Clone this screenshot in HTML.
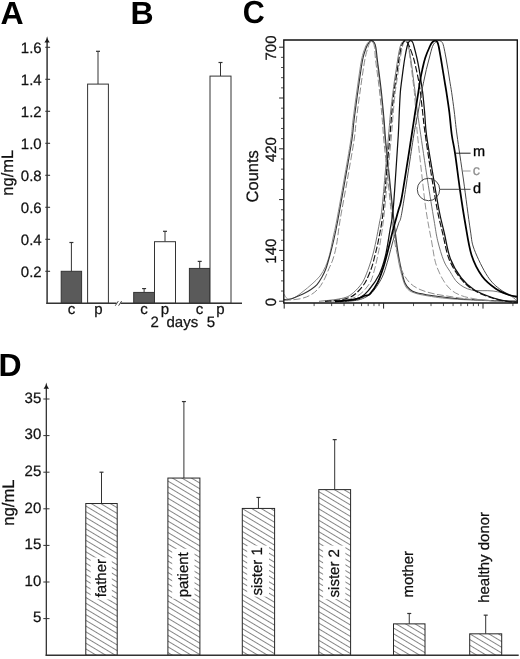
<!DOCTYPE html>
<html lang="en">
<head>
<meta charset="utf-8">
<title>Figure: panels A-D</title>
<style>
html,body{margin:0;padding:0;background:#fff;}
body{width:520px;height:659px;overflow:hidden;font-family:"Liberation Sans", Arial, Helvetica, sans-serif;}
svg{display:block;}
text{font-family:"Liberation Sans", Arial, Helvetica, sans-serif;text-rendering:geometricPrecision;}
svg{will-change:transform;}
</style>
</head>
<body>
<svg width="520" height="659" viewBox="0 0 520 659" font-family='"Liberation Sans", Arial, Helvetica, sans-serif' role="img" aria-label="Figure with panels A to D">
<defs>
<pattern id="hatch" width="20" height="4.9" patternUnits="userSpaceOnUse" patternTransform="rotate(31)"><line x1="0" y1="2.45" x2="20" y2="2.45" stroke="#4c4c4c" stroke-width="0.68"/></pattern>
<clipPath id="clipC"><rect x="284" y="40" width="233.3" height="263"/></clipPath>
</defs>
<rect width="520" height="659" fill="#fff"/>
<text x="0.5" y="24" font-size="32" text-anchor="start" font-weight="bold" fill="#000" >A</text>
<text x="130.5" y="24" font-size="32" text-anchor="start" font-weight="bold" fill="#000" >B</text>
<text x="242.7" y="23.4" font-size="32" text-anchor="start" font-weight="bold" fill="#000" textLength="22" lengthAdjust="spacingAndGlyphs">C</text>
<text x="-1.5" y="376" font-size="32" text-anchor="start" font-weight="bold" fill="#000" >D</text>
<line x1="71.4" y1="271.3" x2="71.4" y2="242.5" stroke="#333" stroke-width="1.0" />
<line x1="69.4" y1="242.5" x2="73.4" y2="242.5" stroke="#333" stroke-width="1.2" />
<rect x="61.2" y="271.3" width="20.4" height="32" fill="#5a5a5a" stroke="#333" stroke-width="1"/>
<line x1="98" y1="84.1" x2="98" y2="51.3" stroke="#333" stroke-width="1.0" />
<line x1="96" y1="51.3" x2="100" y2="51.3" stroke="#333" stroke-width="1.2" />
<rect x="87.6" y="84.1" width="20.8" height="219.2" fill="#fff" stroke="#333" stroke-width="1"/>
<line x1="144.1" y1="292.42" x2="144.1" y2="288.58" stroke="#333" stroke-width="1.0" />
<line x1="142.1" y1="288.58" x2="146.1" y2="288.58" stroke="#333" stroke-width="1.2" />
<rect x="133.7" y="292.42" width="20.8" height="10.88" fill="#5a5a5a" stroke="#333" stroke-width="1"/>
<line x1="165" y1="241.7" x2="165" y2="231.3" stroke="#333" stroke-width="1.0" />
<line x1="163" y1="231.3" x2="167" y2="231.3" stroke="#333" stroke-width="1.2" />
<rect x="154.5" y="241.7" width="21" height="61.6" fill="#fff" stroke="#333" stroke-width="1"/>
<line x1="199.7" y1="268.42" x2="199.7" y2="261.38" stroke="#333" stroke-width="1.0" />
<line x1="197.7" y1="261.38" x2="201.7" y2="261.38" stroke="#333" stroke-width="1.2" />
<rect x="189.4" y="268.42" width="20.6" height="34.88" fill="#5a5a5a" stroke="#333" stroke-width="1"/>
<line x1="220.5" y1="76.1" x2="220.5" y2="62.5" stroke="#333" stroke-width="1.0" />
<line x1="218.5" y1="62.5" x2="222.5" y2="62.5" stroke="#333" stroke-width="1.2" />
<rect x="210" y="76.1" width="21" height="227.2" fill="#fff" stroke="#333" stroke-width="1"/>
<line x1="47.1" y1="303.9" x2="47.1" y2="41" stroke="#333" stroke-width="1.5" />
<path d="M47.1,36.3 Q47.7,40 49.8,42.6 L44.4,42.6 Q46.5,40 47.1,36.3 Z" fill="#1a1a1a"/>
<line x1="45.3" y1="271.3" x2="50.1" y2="271.3" stroke="#333" stroke-width="1.1" />
<text x="41.7" y="276.6" font-size="15" text-anchor="end" font-weight="normal" fill="#111"  stroke="#111" stroke-width="0.25">0.2</text>
<line x1="45.3" y1="239.3" x2="50.1" y2="239.3" stroke="#333" stroke-width="1.1" />
<text x="41.7" y="244.6" font-size="15" text-anchor="end" font-weight="normal" fill="#111"  stroke="#111" stroke-width="0.25">0.4</text>
<line x1="45.3" y1="207.3" x2="50.1" y2="207.3" stroke="#333" stroke-width="1.1" />
<text x="41.7" y="212.6" font-size="15" text-anchor="end" font-weight="normal" fill="#111"  stroke="#111" stroke-width="0.25">0.6</text>
<line x1="45.3" y1="175.3" x2="50.1" y2="175.3" stroke="#333" stroke-width="1.1" />
<text x="41.7" y="180.6" font-size="15" text-anchor="end" font-weight="normal" fill="#111"  stroke="#111" stroke-width="0.25">0.8</text>
<line x1="45.3" y1="143.3" x2="50.1" y2="143.3" stroke="#333" stroke-width="1.1" />
<text x="41.7" y="148.6" font-size="15" text-anchor="end" font-weight="normal" fill="#111"  stroke="#111" stroke-width="0.25">1.0</text>
<line x1="45.3" y1="111.3" x2="50.1" y2="111.3" stroke="#333" stroke-width="1.1" />
<text x="41.7" y="116.6" font-size="15" text-anchor="end" font-weight="normal" fill="#111"  stroke="#111" stroke-width="0.25">1.2</text>
<line x1="45.3" y1="79.3" x2="50.1" y2="79.3" stroke="#333" stroke-width="1.1" />
<text x="41.7" y="84.6" font-size="15" text-anchor="end" font-weight="normal" fill="#111"  stroke="#111" stroke-width="0.25">1.4</text>
<line x1="45.3" y1="47.3" x2="50.1" y2="47.3" stroke="#333" stroke-width="1.1" />
<text x="41.7" y="52.6" font-size="15" text-anchor="end" font-weight="normal" fill="#111"  stroke="#111" stroke-width="0.25">1.6</text>
<line x1="46.4" y1="303.3" x2="116.5" y2="303.3" stroke="#333" stroke-width="1.5" />
<line x1="120.5" y1="303.3" x2="242" y2="303.3" stroke="#333" stroke-width="1.5" />
<line x1="115.3" y1="305.7" x2="118.3" y2="301.1" stroke="#333" stroke-width="0.9" />
<line x1="118.6" y1="305.7" x2="121.6" y2="301.1" stroke="#333" stroke-width="0.9" />
<text x="13" y="172.8" font-size="16.5" text-anchor="middle" font-weight="normal" fill="#111" transform="rotate(-90 13 172.8)"  stroke="#111" stroke-width="0.25">ng/mL</text>
<text x="71.5" y="313.8" font-size="15" text-anchor="middle" font-weight="normal" fill="#111"  stroke="#111" stroke-width="0.25">c</text>
<text x="98.5" y="313.8" font-size="15" text-anchor="middle" font-weight="normal" fill="#111"  stroke="#111" stroke-width="0.25">p</text>
<text x="144.1" y="313.8" font-size="15" text-anchor="middle" font-weight="normal" fill="#111"  stroke="#111" stroke-width="0.25">c</text>
<text x="164.9" y="313.8" font-size="15" text-anchor="middle" font-weight="normal" fill="#111"  stroke="#111" stroke-width="0.25">p</text>
<text x="199.5" y="313.8" font-size="15" text-anchor="middle" font-weight="normal" fill="#111"  stroke="#111" stroke-width="0.25">c</text>
<text x="220.3" y="313.8" font-size="15" text-anchor="middle" font-weight="normal" fill="#111"  stroke="#111" stroke-width="0.25">p</text>
<text x="154.7" y="327.4" font-size="15" text-anchor="middle" font-weight="normal" fill="#111"  stroke="#111" stroke-width="0.25">2</text>
<text x="182.3" y="327.4" font-size="15" text-anchor="middle" font-weight="normal" fill="#111"  stroke="#111" stroke-width="0.25">days</text>
<text x="210.8" y="327.4" font-size="15" text-anchor="middle" font-weight="normal" fill="#111"  stroke="#111" stroke-width="0.25">5</text>
<g clip-path="url(#clipC)">
<path d="M284,294C284.33,294.58 285.17,296.67 286,297.5C286.83,298.33 287.5,299.03 289,299C290.5,298.97 292.67,298.55 295,297.3C297.33,296.05 300.17,293.72 303,291.5C305.83,289.28 309.17,286.58 312,284C314.83,281.42 317.75,278.92 320,276C322.25,273.08 323.9,270.07 325.5,266.5C327.1,262.93 328.35,259.35 329.6,254.6C330.85,249.85 331.8,243.77 333,238C334.2,232.23 334.97,229.67 336.8,220C338.63,210.33 341.67,193.33 344,180C346.33,166.67 349.3,150 350.8,140C352.3,130 351.97,128.33 353,120C354.03,111.67 355.58,100 357,90C358.42,80 360.13,67.08 361.5,60C362.87,52.92 364.15,50.37 365.2,47.5C366.25,44.63 366.85,43.95 367.8,42.8C368.75,41.65 369.9,40.6 370.9,40.6C371.9,40.6 373.07,41.65 373.8,42.8C374.53,43.95 374.8,44.63 375.3,47.5C375.8,50.37 375.92,52.92 376.8,60C377.68,67.08 379.48,80 380.6,90C381.72,100 382.77,111.67 383.5,120C384.23,128.33 384.32,132.5 385,140C385.68,147.5 386.4,153.33 387.6,165C388.8,176.67 390.83,197.33 392.2,210C393.57,222.67 394.88,233.33 395.8,241C396.72,248.67 396.87,250.92 397.7,256C398.53,261.08 399.42,266.33 400.8,271.5C402.18,276.67 403.7,283.42 406,287C408.3,290.58 410.35,291.42 414.6,293C418.85,294.58 426.1,295.58 431.5,296.5C436.9,297.42 440.58,297.92 447,298.5C453.42,299.08 461.17,299.58 470,300C478.83,300.42 492.17,300.78 500,301C507.83,301.22 514.17,301.25 517,301.3" fill="none" stroke="#8c8c8c" stroke-width="1.0" stroke-linejoin="round" stroke-linecap="butt"/>
<path d="M284,299.5C285,299.47 286.83,300.22 290,299.3C293.17,298.38 299.5,295.63 303,294C306.5,292.37 308.67,291.07 311,289.5C313.33,287.93 315.17,286.68 317,284.6C318.83,282.52 320.5,279.68 322,277C323.5,274.32 324.67,272.17 326,268.5C327.33,264.83 328.67,259.92 330,255C331.33,250.08 332.68,244.83 334,239C335.32,233.17 336.05,229.83 337.9,220C339.75,210.17 342.77,193.33 345.1,180C347.43,166.67 350.4,150 351.9,140C353.4,130 353.07,128.33 354.1,120C355.13,111.67 356.68,100 358.1,90C359.52,80 361.23,67.08 362.6,60C363.97,52.92 365.25,50.37 366.3,47.5C367.35,44.63 368.07,43.95 368.9,42.8C369.73,41.65 370.38,40.6 371.3,40.6C372.22,40.6 373.63,41.65 374.4,42.8C375.17,43.95 375.4,44.63 375.9,47.5C376.4,50.37 376.52,52.92 377.4,60C378.28,67.08 380.08,80 381.2,90C382.32,100 383.37,111.67 384.1,120C384.83,128.33 384.92,132.5 385.6,140C386.28,147.5 387,153.33 388.2,165C389.4,176.67 391.43,197.33 392.8,210C394.17,222.67 395.43,233.33 396.4,241C397.37,248.67 397.7,250.92 398.6,256C399.5,261.08 400.73,267 401.8,271.5C402.87,276 403.63,280 405,283C406.37,286 408.17,287.92 410,289.5C411.83,291.08 412.42,291.5 416,292.5C419.58,293.5 426.33,294.67 431.5,295.5C436.67,296.33 440.58,296.83 447,297.5C453.42,298.17 461.17,298.95 470,299.5C478.83,300.05 492.17,300.52 500,300.8C507.83,301.08 514.17,301.13 517,301.2" fill="none" stroke="#333" stroke-width="1.1" stroke-linejoin="round" stroke-linecap="butt"/>
<path d="M284,300.5C286.67,300.22 295.67,299.67 300,298.8C304.33,297.93 307,296.93 310,295.3C313,293.67 315.67,291.55 318,289C320.33,286.45 322.17,283.42 324,280C325.83,276.58 327.5,272 329,268.5C330.5,265 331.75,262.92 333,259C334.25,255.08 335.32,251.5 336.5,245C337.68,238.5 338.3,230.83 340.1,220C341.9,209.17 344.97,193.33 347.3,180C349.63,166.67 352.6,150 354.1,140C355.6,130 355.27,128.33 356.3,120C357.33,111.67 358.88,100 360.3,90C361.72,80 363.52,67.08 364.8,60C366.08,52.92 367.18,50.3 368,47.5C368.82,44.7 369.12,44.3 369.7,43.2C370.28,42.1 370.9,40.9 371.5,40.9C372.1,40.9 372.8,42.1 373.3,43.2C373.8,44.3 374.12,44.7 374.5,47.5C374.88,50.3 374.78,52.92 375.6,60C376.42,67.08 378.28,80 379.4,90C380.52,100 381.57,111.67 382.3,120C383.03,128.33 383.12,132.5 383.8,140C384.48,147.5 385.2,153.33 386.4,165C387.6,176.67 389.63,197.33 391,210C392.37,222.67 393.47,233.33 394.6,241C395.73,248.67 396.65,251.17 397.8,256C398.95,260.83 399.55,265.58 401.5,270C403.45,274.42 406.42,279.25 409.5,282.5C412.58,285.75 415.92,287.62 420,289.5C424.08,291.38 429,292.63 434,293.8C439,294.97 444.17,295.6 450,296.5C455.83,297.4 460.67,298.45 469,299.2C477.33,299.95 492,300.63 500,301C508,301.37 514.17,301.33 517,301.4" fill="none" stroke="#8c8c8c" stroke-width="1.0" stroke-linejoin="round" stroke-linecap="butt" stroke-dasharray="7 2.5"/>
<path d="M319,301.3C321.67,301.02 330.5,300.27 335,299.6C339.5,298.93 343.17,298.27 346,297.3C348.83,296.33 349.83,295.52 352,293.8C354.17,292.08 357.03,289.3 359,287C360.97,284.7 362.13,283.33 363.8,280C365.47,276.67 367.47,271.33 369,267C370.53,262.67 371.83,258.33 373,254C374.17,249.67 374.9,246.33 376,241C377.1,235.67 378.63,227.17 379.6,222C380.57,216.83 380.82,218.67 381.8,210C382.78,201.33 384.37,182.5 385.5,170C386.63,157.5 387.75,144.67 388.6,135C389.45,125.33 389.88,119.05 390.6,112C391.32,104.95 392.27,97.83 392.9,92.7C393.53,87.57 393.85,85.05 394.4,81.2C394.95,77.35 395.62,73.47 396.2,69.6C396.78,65.73 397.23,61.85 397.9,58C398.57,54.15 399.47,49.13 400.2,46.5C400.93,43.87 401.53,43.18 402.3,42.2C403.07,41.22 403.97,40.47 404.8,40.6C405.63,40.73 406.6,41.6 407.3,43C408,44.4 408.45,46.5 409,49C409.55,51.5 410.05,54.57 410.6,58C411.15,61.43 411.78,65.73 412.3,69.6C412.82,73.47 413.22,77.35 413.7,81.2C414.18,85.05 414.57,87.57 415.2,92.7C415.83,97.83 416.7,105.78 417.5,112C418.3,118.22 418.33,118.67 420,130C421.67,141.33 425.17,165 427.5,180C429.83,195 432.3,209.87 434,220C435.7,230.13 436.07,234 437.7,240.8C439.33,247.6 441.75,255.68 443.8,260.8C445.85,265.92 447.63,267.8 450,271.5C452.37,275.2 454.42,279.92 458,283C461.58,286.08 465.67,288.67 471.5,290C477.33,291.33 486.75,290.17 493,291C499.25,291.83 505,293.37 509,295C513,296.63 515.67,299.83 517,300.8" fill="none" stroke="#666" stroke-width="0.9" stroke-linejoin="round" stroke-linecap="butt"/>
<path d="M330,301.4C333.33,301 344.95,300.23 350,299C355.05,297.77 357.47,296 360.3,294C363.13,292 365.17,289.33 367,287C368.83,284.67 369.93,283.33 371.3,280C372.67,276.67 374.05,271.42 375.2,267C376.35,262.58 377.32,257.87 378.2,253.5C379.08,249.13 379.48,247.55 380.5,240.8C381.52,234.05 383.02,224.8 384.3,213C385.58,201.2 387,183 388.2,170C389.4,157 390.65,144.67 391.5,135C392.35,125.33 392.68,119.05 393.3,112C393.92,104.95 394.62,97.83 395.2,92.7C395.78,87.57 396.23,85.05 396.8,81.2C397.37,77.35 398.02,73.47 398.6,69.6C399.18,65.73 399.65,61.85 400.3,58C400.95,54.15 401.88,49.13 402.5,46.5C403.12,43.87 403.45,43.15 404,42.2C404.55,41.25 405.22,40.67 405.8,40.8C406.38,40.93 407,41.63 407.5,43C408,44.37 408.38,46.5 408.8,49C409.22,51.5 409.53,54.57 410,58C410.47,61.43 411.1,65.73 411.6,69.6C412.1,73.47 412.53,77.35 413,81.2C413.47,85.05 413.93,87.57 414.4,92.7C414.87,97.83 415.33,105.45 415.8,112C416.27,118.55 416.25,122 417.2,132C418.15,142 420.03,159 421.5,172C422.97,185 424.33,198.53 426,210C427.67,221.47 429.75,231.5 431.5,240.8C433.25,250.1 433.87,258.27 436.5,265.8C439.13,273.33 443.25,281.07 447.3,286C451.35,290.93 455.02,293.07 460.8,295.4C466.58,297.73 475.47,298.98 482,300C488.53,301.02 494.17,301.2 500,301.5C505.83,301.8 514.17,301.75 517,301.8" fill="none" stroke="#888" stroke-width="0.9" stroke-linejoin="round" stroke-linecap="butt" stroke-dasharray="7 2.5"/>
<path d="M340,301.6C343.33,300.92 355,299.68 360,297.5C365,295.32 366.8,292.32 370,288.5C373.2,284.68 376.63,280.02 379.2,274.6C381.77,269.18 383.6,263.43 385.4,256C387.2,248.57 388.73,237.5 390,230C391.27,222.5 392,221 393,211C394,201 395.12,182.67 396,170C396.88,157.33 397.75,144.67 398.3,135C398.85,125.33 398.97,119.05 399.3,112C399.63,104.95 399.92,97.83 400.3,92.7C400.68,87.57 401.13,85.05 401.6,81.2C402.07,77.35 402.57,73.47 403.1,69.6C403.63,65.73 404.13,61.85 404.8,58C405.47,54.15 406.47,49.13 407.1,46.5C407.73,43.87 408.02,43.18 408.6,42.2C409.18,41.22 409.93,40.6 410.6,40.6C411.27,40.6 412.03,41.22 412.6,42.2C413.17,43.18 413.28,43.87 414,46.5C414.72,49.13 416.03,54.15 416.9,58C417.77,61.85 418.52,65.73 419.2,69.6C419.88,73.47 420.42,77.35 421,81.2C421.58,85.05 422.1,87.57 422.7,92.7C423.3,97.83 423.97,104.95 424.6,112C425.23,119.05 425.18,125 426.5,135C427.82,145 430.42,159.5 432.5,172C434.58,184.5 437.03,199.83 439,210C440.97,220.17 442.38,224.83 444.3,233C446.22,241.17 447.67,251.5 450.5,259C453.33,266.5 457.3,272.83 461.3,278C465.3,283.17 469.13,286.67 474.5,290C479.87,293.33 487.75,296.08 493.5,298C499.25,299.92 505.08,300.83 509,301.5C512.92,302.17 515.67,301.92 517,302" fill="none" stroke="#111" stroke-width="1.25" stroke-linejoin="round" stroke-linecap="butt"/>
<path d="M325,301.4C327.5,301.17 335.83,300.7 340,300C344.17,299.3 347.4,298.23 350,297.2C352.6,296.17 353.6,295.5 355.6,293.8C357.6,292.1 360.22,289.23 362,287C363.78,284.77 364.72,283.57 366.3,280.4C367.88,277.23 370,272.4 371.5,268C373,263.6 374.13,258.67 375.3,254C376.47,249.33 377.25,246.57 378.5,240C379.75,233.43 381.42,226.27 382.8,214.6C384.18,202.93 385.6,183.27 386.8,170C388,156.73 389.15,144.67 390,135C390.85,125.33 391.23,119.05 391.9,112C392.57,104.95 393.38,97.83 394,92.7C394.62,87.57 395.03,85.05 395.6,81.2C396.17,77.35 396.82,73.47 397.4,69.6C397.98,65.73 398.43,61.85 399.1,58C399.77,54.15 400.7,49.13 401.4,46.5C402.1,43.87 402.65,43.18 403.3,42.2C403.95,41.22 404.6,40.55 405.3,40.6C406,40.65 406.82,41.52 407.5,42.5C408.18,43.48 408.4,43.92 409.4,46.5C410.4,49.08 412.35,54.15 413.5,58C414.65,61.85 415.43,65.73 416.3,69.6C417.17,73.47 418.02,77.35 418.7,81.2C419.38,85.05 419.75,87.57 420.4,92.7C421.05,97.83 421.85,105.45 422.6,112C423.35,118.55 423.52,122 424.9,132C426.28,142 428.83,159 430.9,172C432.97,185 435.35,199.83 437.3,210C439.25,220.17 440.65,224.83 442.6,233C444.55,241.17 446.07,251.5 449,259C451.93,266.5 456.03,272.78 460.2,278C464.37,283.22 468.53,286.92 474,290.3C479.47,293.68 487.17,296.38 493,298.3C498.83,300.22 505,301.13 509,301.8C513,302.47 515.67,302.22 517,302.3" fill="none" stroke="#111" stroke-width="1.15" stroke-linejoin="round" stroke-linecap="butt" stroke-dasharray="6.5 2.2"/>
<path d="M345,301.6C347.17,301.33 354.5,300.77 358,300C361.5,299.23 363.67,298.25 366,297C368.33,295.75 370,294.58 372,292.5C374,290.42 376.08,287.58 378,284.5C379.92,281.42 381.75,278.42 383.5,274C385.25,269.58 386.92,263.53 388.5,258C390.08,252.47 391.33,246.5 393,240.8C394.67,235.1 396.95,228.93 398.5,223.8C400.05,218.67 399.75,224.8 402.3,210C404.85,195.2 411.15,151.33 413.8,135C416.45,118.67 416.92,119.05 418.2,112C419.48,104.95 420.57,97.83 421.5,92.7C422.43,87.57 423,85.05 423.8,81.2C424.6,77.35 425.38,73.47 426.3,69.6C427.22,65.73 428.27,61.85 429.3,58C430.33,54.15 431.47,49.13 432.5,46.5C433.53,43.87 434.42,43.18 435.5,42.2C436.58,41.22 437.92,40.6 439,40.6C440.08,40.6 441.22,41.22 442,42.2C442.78,43.18 443.03,43.87 443.7,46.5C444.37,49.13 445.28,54.15 446,58C446.72,61.85 447.37,65.73 448,69.6C448.63,73.47 449.18,77.35 449.8,81.2C450.42,85.05 450.95,87.57 451.7,92.7C452.45,97.83 453.42,104.95 454.3,112C455.18,119.05 455.47,123.67 457,135C458.53,146.33 461.28,164.17 463.5,180C465.72,195.83 468.5,218.4 470.3,230C472.1,241.6 471.4,241.85 474.3,249.6C477.2,257.35 483.25,269.77 487.7,276.5C492.15,283.23 496.12,286.42 501,290C505.88,293.58 514.33,296.67 517,298" fill="none" stroke="#484848" stroke-width="1.0" stroke-linejoin="round" stroke-linecap="butt"/>
<path d="M335,301.6C338.33,301.22 350,300.27 355,299.3C360,298.33 362.5,296.72 365,295.8C367.5,294.88 367.88,296.05 370,293.8C372.12,291.55 375.53,286.52 377.7,282.3C379.87,278.08 381.33,273.63 383,268.5C384.67,263.37 386.03,257.92 387.7,251.5C389.37,245.08 391.2,236.92 393,230C394.8,223.08 397,215.67 398.5,210C400,204.33 399.8,208.5 402,196C404.2,183.5 409.5,149 411.7,135C413.9,121 414.1,119.05 415.2,112C416.3,104.95 417.5,97.83 418.3,92.7C419.1,87.57 419.33,85.05 420,81.2C420.67,77.35 421.43,73.47 422.3,69.6C423.17,65.73 423.95,61.85 425.2,58C426.45,54.15 428.63,49.1 429.8,46.5C430.97,43.9 431.33,43.38 432.2,42.4C433.07,41.42 434.13,40.63 435,40.6C435.87,40.57 436.78,41.22 437.4,42.2C438.02,43.18 438.13,43.87 438.7,46.5C439.27,49.13 440.13,54.15 440.8,58C441.47,61.85 442.07,65.73 442.7,69.6C443.33,73.47 443.97,77.35 444.6,81.2C445.23,85.05 445.72,87.57 446.5,92.7C447.28,97.83 448.42,104.95 449.3,112C450.18,119.05 450.85,128.17 451.8,135C452.75,141.83 453.63,143.83 455,153C456.37,162.17 458.33,178.5 460,190C461.67,201.5 463.08,211.17 465,222C466.92,232.83 468.62,245.92 471.5,255C474.38,264.08 478.25,270.88 482.3,276.5C486.35,282.12 491.35,285.62 495.8,288.7C500.25,291.78 505.47,293.7 509,295C512.53,296.3 515.67,296.25 517,296.5" fill="none" stroke="#000" stroke-width="1.75" stroke-linejoin="round" stroke-linecap="butt"/>
</g>
<path d="M283.8,303.0 L283.8,40.0 L517.3,40.0 L517.3,303.0" fill="none" stroke="#111" stroke-width="1.35"/>
<line x1="283.2" y1="303" x2="517.9" y2="303" stroke="#111" stroke-width="1.5" />
<line x1="279.1" y1="301.2" x2="283.8" y2="301.2" stroke="#222" stroke-width="1.0" />
<line x1="281" y1="291.04" x2="283.8" y2="291.04" stroke="#222" stroke-width="0.8" />
<line x1="281" y1="280.88" x2="283.8" y2="280.88" stroke="#222" stroke-width="0.8" />
<line x1="281" y1="270.72" x2="283.8" y2="270.72" stroke="#222" stroke-width="0.8" />
<line x1="281" y1="260.56" x2="283.8" y2="260.56" stroke="#222" stroke-width="0.8" />
<line x1="279.1" y1="250.4" x2="283.8" y2="250.4" stroke="#222" stroke-width="1.0" />
<line x1="281" y1="240.24" x2="283.8" y2="240.24" stroke="#222" stroke-width="0.8" />
<line x1="281" y1="230.08" x2="283.8" y2="230.08" stroke="#222" stroke-width="0.8" />
<line x1="281" y1="219.92" x2="283.8" y2="219.92" stroke="#222" stroke-width="0.8" />
<line x1="281" y1="209.76" x2="283.8" y2="209.76" stroke="#222" stroke-width="0.8" />
<line x1="279.1" y1="199.6" x2="283.8" y2="199.6" stroke="#222" stroke-width="1.0" />
<line x1="281" y1="189.44" x2="283.8" y2="189.44" stroke="#222" stroke-width="0.8" />
<line x1="281" y1="179.28" x2="283.8" y2="179.28" stroke="#222" stroke-width="0.8" />
<line x1="281" y1="169.12" x2="283.8" y2="169.12" stroke="#222" stroke-width="0.8" />
<line x1="281" y1="158.96" x2="283.8" y2="158.96" stroke="#222" stroke-width="0.8" />
<line x1="279.1" y1="148.8" x2="283.8" y2="148.8" stroke="#222" stroke-width="1.0" />
<line x1="281" y1="138.64" x2="283.8" y2="138.64" stroke="#222" stroke-width="0.8" />
<line x1="281" y1="128.48" x2="283.8" y2="128.48" stroke="#222" stroke-width="0.8" />
<line x1="281" y1="118.32" x2="283.8" y2="118.32" stroke="#222" stroke-width="0.8" />
<line x1="281" y1="108.16" x2="283.8" y2="108.16" stroke="#222" stroke-width="0.8" />
<line x1="279.1" y1="98" x2="283.8" y2="98" stroke="#222" stroke-width="1.0" />
<line x1="281" y1="87.84" x2="283.8" y2="87.84" stroke="#222" stroke-width="0.8" />
<line x1="281" y1="77.68" x2="283.8" y2="77.68" stroke="#222" stroke-width="0.8" />
<line x1="281" y1="67.52" x2="283.8" y2="67.52" stroke="#222" stroke-width="0.8" />
<line x1="281" y1="57.36" x2="283.8" y2="57.36" stroke="#222" stroke-width="0.8" />
<line x1="279.1" y1="47.2" x2="283.8" y2="47.2" stroke="#222" stroke-width="1.0" />
<text x="276" y="48" font-size="15" text-anchor="middle" font-weight="normal" fill="#111" transform="rotate(-90 276 48)"  stroke="#111" stroke-width="0.25">700</text>
<text x="276" y="149.6" font-size="15" text-anchor="middle" font-weight="normal" fill="#111" transform="rotate(-90 276 149.6)"  stroke="#111" stroke-width="0.25">420</text>
<text x="276" y="251.2" font-size="15" text-anchor="middle" font-weight="normal" fill="#111" transform="rotate(-90 276 251.2)"  stroke="#111" stroke-width="0.25">140</text>
<text x="276" y="302" font-size="15" text-anchor="middle" font-weight="normal" fill="#111" transform="rotate(-90 276 302)"  stroke="#111" stroke-width="0.25">0</text>
<text x="257.6" y="176.3" font-size="16.5" text-anchor="middle" font-weight="normal" fill="#111" transform="rotate(-90 257.6 176.3)"  stroke="#111" stroke-width="0.25">Counts</text>
<line x1="284.2" y1="303" x2="284.2" y2="308.6" stroke="#222" stroke-width="1.0" />
<line x1="314.12" y1="303" x2="314.12" y2="306.1" stroke="#222" stroke-width="0.8" />
<line x1="331.63" y1="303" x2="331.63" y2="306.1" stroke="#222" stroke-width="0.8" />
<line x1="344.04" y1="303" x2="344.04" y2="306.1" stroke="#222" stroke-width="0.8" />
<line x1="353.68" y1="303" x2="353.68" y2="306.1" stroke="#222" stroke-width="0.8" />
<line x1="361.55" y1="303" x2="361.55" y2="306.1" stroke="#222" stroke-width="0.8" />
<line x1="368.2" y1="303" x2="368.2" y2="306.1" stroke="#222" stroke-width="0.8" />
<line x1="373.97" y1="303" x2="373.97" y2="306.1" stroke="#222" stroke-width="0.8" />
<line x1="379.05" y1="303" x2="379.05" y2="306.1" stroke="#222" stroke-width="0.8" />
<line x1="383.6" y1="303" x2="383.6" y2="308.6" stroke="#222" stroke-width="1.0" />
<line x1="413.52" y1="303" x2="413.52" y2="306.1" stroke="#222" stroke-width="0.8" />
<line x1="431.03" y1="303" x2="431.03" y2="306.1" stroke="#222" stroke-width="0.8" />
<line x1="443.44" y1="303" x2="443.44" y2="306.1" stroke="#222" stroke-width="0.8" />
<line x1="453.08" y1="303" x2="453.08" y2="306.1" stroke="#222" stroke-width="0.8" />
<line x1="460.95" y1="303" x2="460.95" y2="306.1" stroke="#222" stroke-width="0.8" />
<line x1="467.6" y1="303" x2="467.6" y2="306.1" stroke="#222" stroke-width="0.8" />
<line x1="473.37" y1="303" x2="473.37" y2="306.1" stroke="#222" stroke-width="0.8" />
<line x1="478.45" y1="303" x2="478.45" y2="306.1" stroke="#222" stroke-width="0.8" />
<line x1="483" y1="303" x2="483" y2="308.6" stroke="#222" stroke-width="1.0" />
<line x1="512.92" y1="303" x2="512.92" y2="306.1" stroke="#222" stroke-width="0.8" />
<line x1="455.3" y1="153.2" x2="470.6" y2="153.2" stroke="#222" stroke-width="1.0" />
<text x="473" y="156.2" font-size="14.5" text-anchor="start" font-weight="normal" fill="#000" stroke="#000" stroke-width="0.3">m</text>
<line x1="462.8" y1="171" x2="470.6" y2="171" stroke="#999" stroke-width="1.0" />
<text x="472.8" y="174.8" font-size="14.5" text-anchor="start" font-weight="normal" fill="#909090"  stroke="#909090" stroke-width="0.25">c</text>
<circle cx="428.5" cy="189.5" r="11.2" fill="none" stroke="#333" stroke-width="0.9"/>
<line x1="439.8" y1="189.3" x2="470.6" y2="189.3" stroke="#333" stroke-width="0.9" />
<text x="473" y="192.7" font-size="14.5" text-anchor="start" font-weight="normal" fill="#000" stroke="#000" stroke-width="0.3">d</text>
<line x1="101.5" y1="503.53" x2="101.5" y2="472.2" stroke="#333" stroke-width="1.0" />
<line x1="99.5" y1="472.2" x2="103.5" y2="472.2" stroke="#333" stroke-width="1.2" />
<rect x="85.8" y="503.53" width="31.4" height="151.67" fill="#fff"/>
<rect x="85.8" y="503.53" width="31.4" height="151.67" fill="url(#hatch)" stroke="#262626" stroke-width="1"/>
<line x1="183.9" y1="478.06" x2="183.9" y2="401.56" stroke="#333" stroke-width="1.0" />
<line x1="181.9" y1="401.56" x2="185.9" y2="401.56" stroke="#333" stroke-width="1.2" />
<rect x="167.9" y="478.06" width="32" height="177.14" fill="#fff"/>
<rect x="167.9" y="478.06" width="32" height="177.14" fill="url(#hatch)" stroke="#262626" stroke-width="1"/>
<line x1="258.45" y1="508.43" x2="258.45" y2="497.45" stroke="#333" stroke-width="1.0" />
<line x1="256.45" y1="497.45" x2="260.45" y2="497.45" stroke="#333" stroke-width="1.2" />
<rect x="242.3" y="508.43" width="32.3" height="146.77" fill="#fff"/>
<rect x="242.3" y="508.43" width="32.3" height="146.77" fill="url(#hatch)" stroke="#262626" stroke-width="1"/>
<line x1="334.7" y1="489.62" x2="334.7" y2="439.63" stroke="#333" stroke-width="1.0" />
<line x1="332.7" y1="439.63" x2="336.7" y2="439.63" stroke="#333" stroke-width="1.2" />
<rect x="318.8" y="489.62" width="31.8" height="165.58" fill="#fff"/>
<rect x="318.8" y="489.62" width="31.8" height="165.58" fill="url(#hatch)" stroke="#262626" stroke-width="1"/>
<line x1="409.25" y1="623.87" x2="409.25" y2="613.48" stroke="#333" stroke-width="1.0" />
<line x1="407.25" y1="613.48" x2="411.25" y2="613.48" stroke="#333" stroke-width="1.2" />
<rect x="393.5" y="623.87" width="31.5" height="31.33" fill="#fff"/>
<rect x="393.5" y="623.87" width="31.5" height="31.33" fill="url(#hatch)" stroke="#262626" stroke-width="1"/>
<line x1="485.7" y1="633.83" x2="485.7" y2="615.16" stroke="#333" stroke-width="1.0" />
<line x1="483.7" y1="615.16" x2="487.7" y2="615.16" stroke="#333" stroke-width="1.2" />
<rect x="469.7" y="633.83" width="32" height="21.37" fill="#fff"/>
<rect x="469.7" y="633.83" width="32" height="21.37" fill="url(#hatch)" stroke="#262626" stroke-width="1"/>
<rect x="90.6" y="557.5" width="21.2" height="41.9" fill="#fff"/>
<text x="106.3" y="597.3" font-size="15" text-anchor="start" font-weight="normal" fill="#111" transform="rotate(-90 106.3 597.3)"  stroke="#111" stroke-width="0.25">father</text>
<rect x="172.2" y="548.8" width="22.3" height="49.9" fill="#fff"/>
<text x="187.8" y="597.3" font-size="15" text-anchor="start" font-weight="normal" fill="#111" transform="rotate(-90 187.8 597.3)"  stroke="#111" stroke-width="0.25">patient</text>
<rect x="247.2" y="545.6" width="21.8" height="51" fill="#fff"/>
<text x="262" y="595.6" font-size="15" text-anchor="start" font-weight="normal" fill="#111" transform="rotate(-90 262 595.6)"  stroke="#111" stroke-width="0.25">sister 1</text>
<rect x="323.1" y="545.6" width="22.3" height="53.6" fill="#fff"/>
<text x="339.4" y="597.4" font-size="15" text-anchor="start" font-weight="normal" fill="#111" transform="rotate(-90 339.4 597.4)"  stroke="#111" stroke-width="0.25">sister 2</text>
<text x="413.1" y="597.6" font-size="15" text-anchor="start" font-weight="normal" fill="#111" transform="rotate(-90 413.1 597.6)"  stroke="#111" stroke-width="0.25">mother</text>
<text x="489.2" y="602.8" font-size="15" text-anchor="start" font-weight="normal" fill="#111" transform="rotate(-90 489.2 602.8)"  stroke="#111" stroke-width="0.25">healthy donor</text>
<line x1="46.3" y1="655.8" x2="46.3" y2="387.5" stroke="#222" stroke-width="1.2" />
<path d="M46.3,382.4 Q46.9,386.2 49,388.8 L43.6,388.8 Q45.7,386.2 46.3,382.4 Z" fill="#1a1a1a"/>
<line x1="43.3" y1="618.6" x2="49.5" y2="618.6" stroke="#333" stroke-width="1.0" />
<text x="41.3" y="622.4" font-size="15" text-anchor="end" font-weight="normal" fill="#111"  stroke="#111" stroke-width="0.25">5</text>
<line x1="43.3" y1="582" x2="49.5" y2="582" stroke="#333" stroke-width="1.0" />
<text x="41.3" y="585.8" font-size="15" text-anchor="end" font-weight="normal" fill="#111"  stroke="#111" stroke-width="0.25">10</text>
<line x1="43.3" y1="545.4" x2="49.5" y2="545.4" stroke="#333" stroke-width="1.0" />
<text x="41.3" y="549.2" font-size="15" text-anchor="end" font-weight="normal" fill="#111"  stroke="#111" stroke-width="0.25">15</text>
<line x1="43.3" y1="508.8" x2="49.5" y2="508.8" stroke="#333" stroke-width="1.0" />
<text x="41.3" y="512.6" font-size="15" text-anchor="end" font-weight="normal" fill="#111"  stroke="#111" stroke-width="0.25">20</text>
<line x1="43.3" y1="472.2" x2="49.5" y2="472.2" stroke="#333" stroke-width="1.0" />
<text x="41.3" y="476" font-size="15" text-anchor="end" font-weight="normal" fill="#111"  stroke="#111" stroke-width="0.25">25</text>
<line x1="43.3" y1="435.6" x2="49.5" y2="435.6" stroke="#333" stroke-width="1.0" />
<text x="41.3" y="439.4" font-size="15" text-anchor="end" font-weight="normal" fill="#111"  stroke="#111" stroke-width="0.25">30</text>
<line x1="43.3" y1="399" x2="49.5" y2="399" stroke="#333" stroke-width="1.0" />
<text x="41.3" y="402.8" font-size="15" text-anchor="end" font-weight="normal" fill="#111"  stroke="#111" stroke-width="0.25">35</text>
<line x1="45.6" y1="655.2" x2="518.7" y2="655.2" stroke="#333" stroke-width="1.4" />
<text x="13.6" y="502.6" font-size="16.7" text-anchor="middle" font-weight="normal" fill="#111" transform="rotate(-90 13.6 502.6)"  stroke="#111" stroke-width="0.25">ng/mL</text>
</svg>
</body>
</html>
